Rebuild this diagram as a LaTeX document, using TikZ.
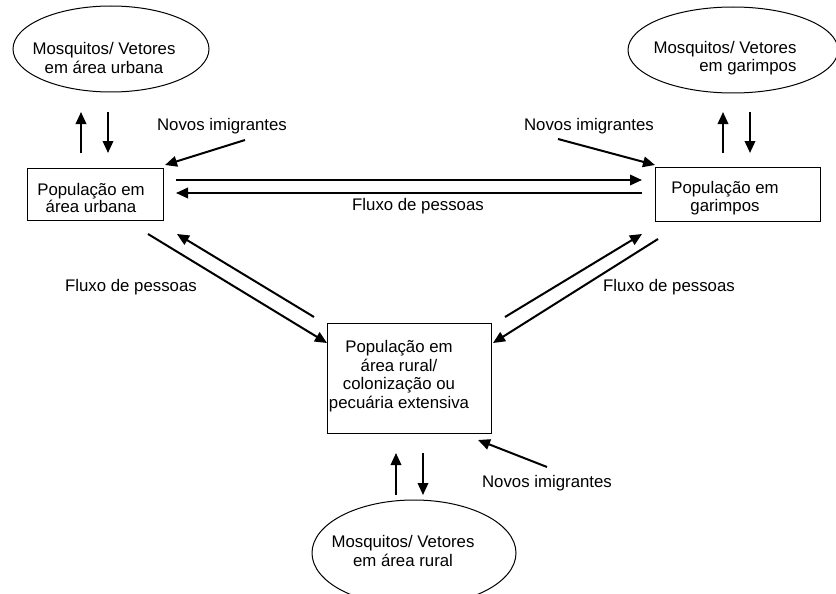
\documentclass[tikz,border=0pt]{standalone}
\usepackage{fontspec}
\setmainfont{Liberation Sans}
\usetikzlibrary{arrows.meta,calc,shapes.geometric}
\begin{document}
\begin{tikzpicture}[x=1pt,y=-1pt,
  every node/.style={font=\fontsize{16.8}{18.5}\selectfont, inner sep=0pt, outer sep=0pt},
  ell/.style={draw, line width=1pt, ellipse},
  boxnode/.style={draw, line width=1pt, rectangle},
  txt/.style={align=center},
  arr/.style={line width=2pt, -{Triangle[length=12pt,width=10.5pt]}},
]
\useasboundingbox (0,0) rectangle (836,594);

% ellipses
\node[ell, minimum width=196, minimum height=86] (ue) at (111,49) {};
\node[ell, minimum width=210, minimum height=86] (ge) at (733,50) {};
\node[ell, minimum width=204, minimum height=106] (re) at (414,553) {};
\node[txt] (ueT) at (104,58) {Mosquitos/ Vetores\\em área urbana};
\node[align=right] (geT) at (725,58) {Mosquitos/ Vetores\\em garimpos};
\node[txt] (reT) at (403,551) {Mosquitos/ Vetores\\em área rural};

% boxes
\node[boxnode, minimum width=136, minimum height=52] (urb) at (95,194) {};
\node[boxnode, minimum width=165, minimum height=54] (gar) at (737.5,194) {};
\node[boxnode, minimum width=164, minimum height=110] (rur) at (409,378) {};
\node[txt, font=\fontsize{16.8}{17.5}\selectfont] (urbT) at (91,198) {População em\\área urbana};
\node[txt, font=\fontsize{16.8}{17.5}\selectfont] (garT) at (725,198) {População em\\garimpos};
\node[txt] (rurT) at (399,376) {População em\\área rural/\\colonização ou\\pecuária extensiva};

% labels
\node[anchor=base] (n1) at (222,131) {Novos imigrantes};
\node[anchor=base] (n2) at (589,131) {Novos imigrantes};
\node[anchor=base] (n3) at (547,487) {Novos imigrantes};
\node[anchor=base] (f1) at (418,210) {Fluxo de pessoas};
\node[anchor=base] (f2) at (131,291) {Fluxo de pessoas};
\node[anchor=base] (f3) at (669,291) {Fluxo de pessoas};

% free ends of immigrant arrows
\coordinate (n1s) at (245,140);
\coordinate (n2s) at (558,139);
\coordinate (n3s) at (547,467);

% vertical arrows
\draw[arr] ($(urb.north)+(-14,-15)$) -- ($(ue.south)+(-30,20)$);
\draw[arr] ($(ue.south)+(-3,20)$) -- ($(urb.north)+(13,-15)$);
\draw[arr] ($(gar.north)+(-14.5,-14)$) -- ($(ge.south)+(-10,19)$);
\draw[arr] ($(ge.south)+(17,19)$) -- ($(gar.north)+(12.5,-14)$);
\draw[arr] ($(re.north)+(-18,-5)$) -- ($(rur.south)+(-13,20)$);
\draw[arr] ($(rur.south)+(14,20)$) -- ($(re.north)+(9,-5)$);

% immigrant arrows
\draw[arr] (n1s) -- ($(urb.north east)+(2,-3)$);
\draw[arr] (n2s) -- ($(gar.north west)+(0,-2)$);
\draw[arr] (n3s) -- ($(rur.south east)+(-13,7)$);

% horizontal flows
\draw[arr] ($(urb.east)+(13,-14)$) -- ($(gar.west)+(-13,-14)$);
\draw[arr] ($(gar.west)+(-13,-1)$) -- ($(urb.east)+(13,-1)$);

% diagonal flows
\draw[arr] ($(urb.south)+(53,14)$) -- ($(rur.north west)+(0,20)$);
\draw[arr] ($(rur.north west)+(-13,-6)$) -- ($(urb.south east)+(14,14)$);
\draw[arr] ($(rur.north east)+(14,-6)$) -- ($(gar.south west)+(-13,13)$);
\draw[arr] ($(gar.south west)+(3,18)$) -- ($(rur.north east)+(2,20)$);
\end{tikzpicture}
\end{document}
